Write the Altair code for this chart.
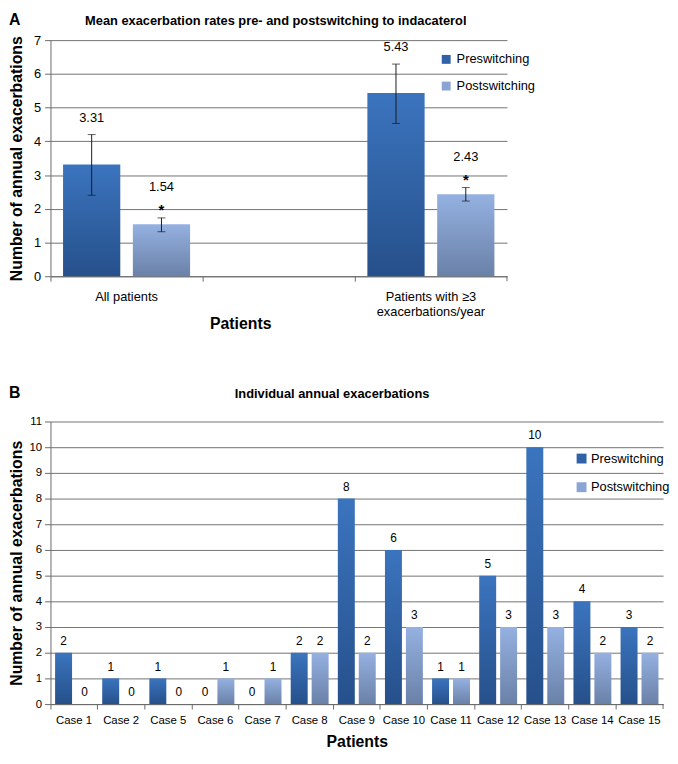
import altair as alt
import pandas as pd

# ---------------- data ----------------
panel_letters = ["A", "B"]
titles = ["Mean exacerbation rates pre- and postswitching to indacaterol",
          "Individual annual exacerbations"]
series = ["Preswitching", "Postswitching"]

a_groups = ["All patients", "Patients with ≥3 exacerbations/year"]
a_axis_domain = ["All patients", "gap", "Patients with ≥3 exacerbations/year"]
a_pre = [3.31, 5.43]
a_post = [1.54, 2.43]
a_pre_lo = [2.40, 4.53]
a_pre_hi = [4.20, 6.29]
a_post_lo = [1.32, 2.23]
a_post_hi = [1.73, 2.63]
a_post_marks = ["*", "*"]

b_cases = ["Case 1", "Case 2", "Case 5", "Case 6", "Case 7", "Case 8", "Case 9",
           "Case 10", "Case 11", "Case 12", "Case 13", "Case 14", "Case 15"]
b_pre = [2, 1, 1, 0, 0, 2, 8, 6, 1, 5, 10, 4, 3]
b_post = [0, 0, 0, 1, 1, 2, 2, 3, 1, 3, 3, 2, 2]

# ---------------- tables ----------------
rowsA = []
for i, g in enumerate(a_groups):
    rowsA.append(dict(group=g, series=series[0], value=a_pre[i], lo=a_pre_lo[i],
                      hi=a_pre_hi[i], label=f"{a_pre[i]:.2f}", mark=""))
    rowsA.append(dict(group=g, series=series[1], value=a_post[i], lo=a_post_lo[i],
                      hi=a_post_hi[i], label=f"{a_post[i]:.2f}", mark=a_post_marks[i]))
dfA = pd.DataFrame(rowsA)

rowsB = []
for i, c in enumerate(b_cases):
    rowsB.append(dict(case=c, series=series[0], value=b_pre[i]))
    rowsB.append(dict(case=c, series=series[1], value=b_post[i]))
dfB = pd.DataFrame(rowsB)

FONT = "Liberation Sans"
GRID = "#727272"
AXIS = "#6a6a6a"
BAR_COLORS = {
    "Preswitching": ("#3b74be", "#26508b"),
    "Postswitching": ("#95b1e1", "#6a81a8"),
}
LEGEND_COLORS = ["#2f62a8", "#8aa4d3"]


def grad(top, bottom):
    return alt.LinearGradient(
        gradient="linear", x1=0, x2=0, y1=0, y2=1,
        stops=[alt.GradientStop(color=top, offset=0),
               alt.GradientStop(color=bottom, offset=1)])


# ================= chart A =================
WA, HA = 462, 239

axA_x = alt.Axis(title="Patients", titleFontSize=16, titleFontWeight="bold",
                 titleX=192, titleY=48, titleBaseline="middle",
                 labelAngle=0, labelFontSize=13, labelPadding=10, labelLineHeight=15,
                 labelExpr="datum.value == 'gap' ? '' : (datum.value == 'Patients with ≥3 exacerbations/year' ? ['Patients with ≥3', 'exacerbations/year'] : datum.label)",
                 bandPosition=0, tickSize=5, grid=False)
axA_y = alt.Axis(title="Number of annual exacerbations", titleFontSize=16,
                 titleFontWeight="bold", titleX=-34, titleY=HA / 2, titleAngle=270,
                 titleBaseline="middle", titleAlign="center",
                 values=list(range(8)), labelFontSize=13, tickSize=6, labelPadding=4,
                 grid=True)

xA = alt.X("group:N", scale=alt.Scale(domain=a_axis_domain, paddingInner=0, paddingOuter=0),
           axis=axA_x)
xoA = alt.XOffset("series:N", scale=alt.Scale(domain=series, paddingInner=0.18, paddingOuter=0.18))


def yA(field):
    return alt.Y(f"{field}:Q", scale=alt.Scale(domain=[0, 7]), axis=axA_y)


baseA = alt.Chart(dfA)
barsA = [
    baseA.transform_filter(alt.datum.series == s)
    .mark_bar(color=grad(*BAR_COLORS[s]))
    .encode(x=xA, xOffset=xoA, y=yA("value"))
    for s in series
]
errA = baseA.mark_rule(color="#1a1a1a", strokeWidth=1).encode(
    x=xA, xOffset=xoA, y=yA("lo"), y2="hi:Q")
capHiA = baseA.mark_tick(color="#1a1a1a", thickness=1, size=8).encode(
    x=xA, xOffset=xoA, y=yA("hi"))
capLoA = baseA.mark_tick(color="#1a1a1a", thickness=1, size=8).encode(
    x=xA, xOffset=xoA, y=yA("lo"))
lblPreA = baseA.transform_filter(alt.datum.series == series[0]).mark_text(
    fontSize=13, dy=-17, baseline="middle", color="black").encode(
    x=xA, xOffset=xoA, y=yA("hi"), text="label:N")
lblPostA = baseA.transform_filter(alt.datum.series == series[1]).mark_text(
    fontSize=13, dy=-31, baseline="middle", color="black").encode(
    x=xA, xOffset=xoA, y=yA("hi"), text="label:N")
starA = baseA.transform_filter(alt.datum.series == series[1]).mark_text(
    fontSize=15, fontWeight="bold", dy=-8, baseline="middle", color="black").encode(
    x=xA, xOffset=xoA, y=yA("hi"), text="mark:N")
legA = baseA.transform_filter("false").mark_square(opacity=1).encode(
    color=alt.Color("series:N", scale=alt.Scale(domain=series, range=LEGEND_COLORS),
                    legend=alt.Legend(orient="none", legendX=394, legendY=13, title=None,
                                      symbolType="square", symbolSize=81, symbolStrokeWidth=0,
                                      symbolOpacity=1,
                                      labelFontSize=13, labelOffset=4, rowPadding=13,
                                      padding=0, labelColor="black")))

meta = pd.DataFrame({"letter": [panel_letters[0]], "title": [titles[0]]})
titleA = alt.Chart(meta).mark_text(fontSize=13, fontWeight="bold", baseline="middle",
                                   align="center", color="black").encode(
    text="title:N", x=alt.value(WA / 2 - 3), y=alt.value(-19))
letterA = alt.Chart(meta).mark_text(fontSize=16, fontWeight="bold", baseline="middle",
                                    align="left", color="black").encode(
    text="letter:N", x=alt.value(-42), y=alt.value(-20))
endTickA = alt.Chart(meta).mark_rule(color=AXIS).encode(
    x=alt.value(WA), y=alt.value(HA), y2=alt.value(HA + 5))

chartA = alt.layer(*barsA, errA, capHiA, capLoA, lblPreA, lblPostA, starA, legA,
                   titleA, letterA, endTickA).properties(width=WA, height=HA)

# ================= chart B =================
WB, HB = 620, 286

axB_x = alt.Axis(title="Patients", titleFontSize=16, titleFontWeight="bold",
                 titleY=38, titleBaseline="middle",
                 labelAngle=0, labelFontSize=11.5, labelPadding=6,
                 bandPosition=0, tickSize=5, grid=False)
axB_y = alt.Axis(title="Number of annual exacerbations", titleFontSize=16,
                 titleFontWeight="bold", titleX=-34, titleY=HB / 2, titleAngle=270,
                 titleBaseline="middle", titleAlign="center",
                 values=list(range(12)), labelFontSize=11.5, tickSize=6, labelPadding=3,
                 grid=True)
xB = alt.X("case:N", scale=alt.Scale(domain=b_cases, paddingInner=0, paddingOuter=0),
           axis=axB_x)
xoB = alt.XOffset("series:N", scale=alt.Scale(domain=series, paddingInner=0.19, paddingOuter=0.22))
yB = alt.Y("value:Q", scale=alt.Scale(domain=[0, 11]), axis=axB_y)

baseB = alt.Chart(dfB)
barsB = [
    baseB.transform_filter(alt.datum.series == s)
    .mark_bar(color=grad(*BAR_COLORS[s]))
    .encode(x=xB, xOffset=xoB, y=yB)
    for s in series
]
lblB = baseB.mark_text(fontSize=12, dy=-5, baseline="bottom", color="black").encode(
    x=xB, xOffset=xoB, y=yB, text="value:Q")
legB = baseB.transform_filter("false").mark_square(opacity=1).encode(
    color=alt.Color("series:N", scale=alt.Scale(domain=series, range=LEGEND_COLORS),
                    legend=alt.Legend(orient="none", legendX=531, legendY=31, title=None,
                                      symbolType="square", symbolSize=100, symbolStrokeWidth=0,
                                      symbolOpacity=1,
                                      labelFontSize=13, labelOffset=3, rowPadding=15,
                                      padding=0, labelColor="black")))
metaB = pd.DataFrame({"letter": [panel_letters[1]], "title": [titles[1]]})
titleB = alt.Chart(metaB).mark_text(fontSize=13, fontWeight="bold", baseline="middle",
                                    align="center", color="black").encode(
    text="title:N", x=alt.value(WB / 2 - 25), y=alt.value(-28))
letterB = alt.Chart(metaB).mark_text(fontSize=16, fontWeight="bold", baseline="middle",
                                     align="left", color="black").encode(
    text="letter:N", x=alt.value(-42), y=alt.value(-29))
endTickB = alt.Chart(metaB).mark_rule(color=AXIS).encode(
    x=alt.value(WB), y=alt.value(HB), y2=alt.value(HB + 5))

chartB = alt.layer(*barsB, lblB, legB, titleB, letterB, endTickB).properties(width=WB, height=HB)

chart = (
    alt.vconcat(chartA, chartB, spacing=54)
    .resolve_scale(color="independent", xOffset="independent")
    .resolve_legend(color="independent")
    .properties(padding=0)
    .configure(font=FONT)
    .configure_view(strokeWidth=0)
    .configure_axis(labelFont=FONT, titleFont=FONT, labelColor="black", titleColor="black",
                    domainColor=AXIS, tickColor=AXIS, gridColor=GRID, gridWidth=1)
    .configure_legend(labelFont=FONT)
    .configure_text(font=FONT)
)

chart.save("out.html", embed_options={"renderer": "svg", "actions": False})
